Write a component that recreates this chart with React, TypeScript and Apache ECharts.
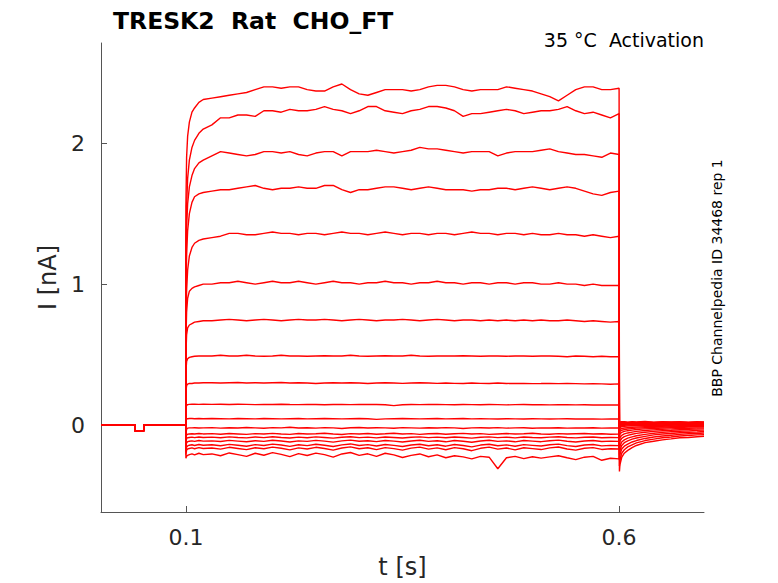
import * as echarts from "echarts"
import { useEffect, useRef } from "react"

// shared pre-pulse holding segment (with the small test step)
const baselineTimes = [0.002, 0.01, 0.02, 0.03, 0.04, 0.041, 0.0412, 0.0513, 0.0515, 0.06, 0.07, 0.08, 0.09, 0.0998]
const baselineValues = [0.003, 0.002, 0.003, 0.002, 0.003, 0.003, -0.04, -0.042, 0.002, 0.003, 0.002, 0.003, 0.002, 0.003]

const pulseTimes = [
  0.1, 0.1008, 0.102, 0.104, 0.107, 0.11, 0.115, 0.12,
  0.13, 0.14, 0.15, 0.16, 0.17, 0.18, 0.19, 0.2,
  0.21, 0.22, 0.23, 0.24, 0.25, 0.26, 0.27, 0.28, 0.29, 0.3,
  0.31, 0.32, 0.33, 0.34, 0.35, 0.36, 0.37, 0.38, 0.39, 0.4,
  0.41, 0.42, 0.43, 0.44, 0.45, 0.46, 0.47, 0.48, 0.49, 0.5,
  0.51, 0.52, 0.53, 0.54, 0.55, 0.56, 0.57, 0.58, 0.59, 0.6,
]

// current (nA) during the step, one row per sweep
const pulseValues = [
  [1.55, 1.9, 2.05, 2.15, 2.22, 2.25, 2.29, 2.31, 2.32, 2.33, 2.34, 2.35, 2.36, 2.38, 2.4, 2.4, 2.39, 2.4, 2.4, 2.38, 2.37, 2.37, 2.4, 2.42, 2.38, 2.35, 2.34, 2.36, 2.38, 2.38, 2.38, 2.37, 2.38, 2.4, 2.41, 2.41, 2.4, 2.38, 2.37, 2.38, 2.38, 2.38, 2.4, 2.39, 2.38, 2.37, 2.35, 2.33, 2.3, 2.34, 2.38, 2.4, 2.4, 2.38, 2.38, 2.39],
  [1.3, 1.55, 1.75, 1.88, 1.97, 2.02, 2.07, 2.1, 2.13, 2.18, 2.18, 2.2, 2.2, 2.19, 2.23, 2.23, 2.22, 2.24, 2.23, 2.23, 2.24, 2.26, 2.24, 2.23, 2.21, 2.23, 2.26, 2.26, 2.23, 2.22, 2.21, 2.23, 2.24, 2.26, 2.26, 2.25, 2.23, 2.19, 2.21, 2.21, 2.22, 2.23, 2.24, 2.23, 2.21, 2.22, 2.23, 2.23, 2.24, 2.26, 2.23, 2.21, 2.22, 2.2, 2.18, 2.21],
  [1.15, 1.4, 1.57, 1.69, 1.77, 1.82, 1.86, 1.88, 1.91, 1.94, 1.93, 1.92, 1.91, 1.92, 1.94, 1.94, 1.93, 1.94, 1.92, 1.91, 1.93, 1.94, 1.94, 1.91, 1.94, 1.94, 1.94, 1.95, 1.94, 1.93, 1.94, 1.95, 1.97, 1.96, 1.96, 1.95, 1.94, 1.93, 1.94, 1.94, 1.94, 1.91, 1.93, 1.94, 1.94, 1.94, 1.95, 1.96, 1.94, 1.93, 1.92, 1.92, 1.91, 1.9, 1.93, 1.92],
  [0.95, 1.2, 1.38, 1.5, 1.58, 1.62, 1.64, 1.65, 1.66, 1.67, 1.67, 1.68, 1.69, 1.7, 1.68, 1.67, 1.68, 1.68, 1.69, 1.68, 1.68, 1.7, 1.7, 1.67, 1.65, 1.67, 1.67, 1.68, 1.69, 1.69, 1.68, 1.67, 1.68, 1.69, 1.68, 1.67, 1.67, 1.67, 1.66, 1.67, 1.67, 1.68, 1.68, 1.67, 1.68, 1.69, 1.68, 1.67, 1.68, 1.69, 1.68, 1.66, 1.64, 1.63, 1.65, 1.66],
  [0.72, 0.95, 1.1, 1.2, 1.26, 1.29, 1.31, 1.32, 1.33, 1.34, 1.36, 1.36, 1.35, 1.35, 1.36, 1.37, 1.36, 1.36, 1.35, 1.36, 1.36, 1.35, 1.36, 1.37, 1.36, 1.36, 1.35, 1.36, 1.37, 1.36, 1.35, 1.36, 1.36, 1.35, 1.36, 1.36, 1.35, 1.36, 1.37, 1.36, 1.36, 1.35, 1.36, 1.36, 1.35, 1.36, 1.35, 1.35, 1.36, 1.35, 1.35, 1.34, 1.35, 1.34, 1.33, 1.34],
  [0.6, 0.8, 0.9, 0.95, 0.97, 0.98, 0.99, 1.0, 1.0, 1.01, 1.01, 1.02, 1.01, 1.0, 1.01, 1.02, 1.01, 1.01, 1.02, 1.01, 1.0, 1.01, 1.02, 1.01, 1.01, 1.0, 1.01, 1.01, 1.02, 1.01, 1.01, 1.0, 1.01, 1.01, 1.02, 1.01, 1.01, 1.0, 1.01, 1.01, 1.0, 1.01, 1.01, 1.0, 1.01, 1.01, 1.0, 1.0, 1.01, 1.0, 1.0, 0.99, 1.0, 0.99, 0.99, 0.99],
  [0.5, 0.64, 0.69, 0.71, 0.72, 0.73, 0.735, 0.74, 0.74, 0.745, 0.75, 0.745, 0.74, 0.745, 0.75, 0.745, 0.74, 0.745, 0.75, 0.745, 0.745, 0.75, 0.745, 0.74, 0.745, 0.75, 0.745, 0.74, 0.745, 0.745, 0.75, 0.745, 0.74, 0.745, 0.75, 0.745, 0.74, 0.745, 0.745, 0.74, 0.745, 0.74, 0.745, 0.74, 0.745, 0.74, 0.745, 0.74, 0.74, 0.745, 0.74, 0.735, 0.74, 0.735, 0.73, 0.735],
  [0.38, 0.45, 0.47, 0.48, 0.485, 0.488, 0.49, 0.49, 0.49, 0.495, 0.49, 0.49, 0.495, 0.49, 0.488, 0.49, 0.495, 0.49, 0.49, 0.488, 0.49, 0.492, 0.49, 0.49, 0.495, 0.49, 0.488, 0.49, 0.492, 0.49, 0.49, 0.495, 0.49, 0.488, 0.49, 0.49, 0.49, 0.492, 0.49, 0.488, 0.49, 0.49, 0.488, 0.49, 0.49, 0.488, 0.49, 0.49, 0.488, 0.485, 0.49, 0.488, 0.485, 0.488, 0.485, 0.485],
  [0.24, 0.28, 0.29, 0.295, 0.295, 0.298, 0.298, 0.3, 0.3, 0.298, 0.3, 0.302, 0.298, 0.3, 0.298, 0.3, 0.302, 0.298, 0.3, 0.298, 0.295, 0.298, 0.3, 0.298, 0.3, 0.298, 0.295, 0.298, 0.3, 0.298, 0.296, 0.298, 0.3, 0.298, 0.296, 0.298, 0.296, 0.295, 0.298, 0.296, 0.295, 0.298, 0.295, 0.296, 0.295, 0.294, 0.295, 0.296, 0.294, 0.295, 0.294, 0.292, 0.294, 0.292, 0.29, 0.292],
  [0.12, 0.14, 0.145, 0.147, 0.148, 0.148, 0.147, 0.148, 0.147, 0.148, 0.146, 0.148, 0.147, 0.145, 0.147, 0.146, 0.148, 0.146, 0.145, 0.147, 0.146, 0.144, 0.146, 0.147, 0.145, 0.146, 0.147, 0.146, 0.144, 0.138, 0.144, 0.146, 0.145, 0.147, 0.146, 0.145, 0.144, 0.146, 0.145, 0.144, 0.146, 0.145, 0.143, 0.145, 0.146, 0.144, 0.145, 0.143, 0.144, 0.145, 0.143, 0.144, 0.142, 0.143, 0.142, 0.142],
  [0.03, 0.042, 0.045, 0.046, 0.046, 0.045, 0.046, 0.045, 0.046, 0.045, 0.044, 0.046, 0.045, 0.044, 0.046, 0.045, 0.044, 0.045, 0.046, 0.044, 0.045, 0.046, 0.045, 0.044, 0.045, 0.046, 0.045, 0.04, 0.044, 0.045, 0.046, 0.045, 0.044, 0.045, 0.046, 0.044, 0.045, 0.046, 0.044, 0.045, 0.044, 0.043, 0.045, 0.044, 0.043, 0.045, 0.044, 0.043, 0.044, 0.045, 0.043, 0.044, 0.043, 0.042, 0.043, 0.043],
  [-0.06, -0.03, -0.022, -0.02, -0.02, -0.019, -0.021, -0.02, -0.018, -0.022, -0.019, -0.021, -0.017, -0.02, -0.023, -0.018, -0.02, -0.016, -0.021, -0.019, -0.022, -0.018, -0.02, -0.024, -0.019, -0.017, -0.021, -0.019, -0.02, -0.023, -0.018, -0.02, -0.022, -0.019, -0.021, -0.018, -0.02, -0.024, -0.02, -0.019, -0.021, -0.018, -0.022, -0.02, -0.019, -0.023, -0.02, -0.021, -0.019, -0.022, -0.02, -0.021, -0.019, -0.022, -0.02, -0.021],
  [-0.1, -0.07, -0.065, -0.063, -0.062, -0.064, -0.06, -0.063, -0.061, -0.065, -0.06, -0.063, -0.066, -0.061, -0.064, -0.059, -0.063, -0.066, -0.06, -0.064, -0.062, -0.058, -0.063, -0.067, -0.061, -0.064, -0.06, -0.065, -0.062, -0.058, -0.064, -0.061, -0.066, -0.062, -0.06, -0.065, -0.062, -0.059, -0.064, -0.061, -0.066, -0.063, -0.06, -0.064, -0.062, -0.058, -0.063, -0.065, -0.061, -0.064, -0.062, -0.06, -0.064, -0.062, -0.065, -0.063],
  [-0.13, -0.095, -0.09, -0.088, -0.086, -0.089, -0.085, -0.088, -0.086, -0.09, -0.084, -0.088, -0.091, -0.085, -0.089, -0.083, -0.088, -0.092, -0.086, -0.09, -0.084, -0.088, -0.093, -0.087, -0.083, -0.089, -0.086, -0.091, -0.085, -0.088, -0.092, -0.087, -0.084, -0.089, -0.086, -0.09, -0.085, -0.088, -0.093, -0.087, -0.084, -0.089, -0.086, -0.091, -0.085, -0.088, -0.09, -0.086, -0.083, -0.088, -0.091, -0.087, -0.085, -0.09, -0.088, -0.089],
  [-0.16, -0.125, -0.118, -0.115, -0.112, -0.116, -0.11, -0.114, -0.112, -0.117, -0.109, -0.114, -0.119, -0.111, -0.116, -0.108, -0.113, -0.12, -0.112, -0.116, -0.109, -0.114, -0.121, -0.112, -0.107, -0.115, -0.111, -0.118, -0.11, -0.114, -0.12, -0.113, -0.108, -0.116, -0.111, -0.119, -0.11, -0.115, -0.122, -0.113, -0.108, -0.116, -0.112, -0.119, -0.11, -0.114, -0.118, -0.111, -0.107, -0.115, -0.12, -0.113, -0.11, -0.117, -0.114, -0.116],
  [-0.19, -0.155, -0.148, -0.143, -0.14, -0.145, -0.138, -0.143, -0.14, -0.147, -0.137, -0.143, -0.15, -0.139, -0.145, -0.135, -0.142, -0.151, -0.14, -0.146, -0.136, -0.143, -0.152, -0.141, -0.134, -0.145, -0.139, -0.149, -0.138, -0.144, -0.152, -0.142, -0.136, -0.147, -0.14, -0.15, -0.138, -0.145, -0.155, -0.142, -0.136, -0.147, -0.141, -0.15, -0.139, -0.144, -0.149, -0.14, -0.135, -0.146, -0.152, -0.142, -0.138, -0.148, -0.144, -0.146],
  [-0.21, -0.178, -0.17, -0.166, -0.162, -0.168, -0.16, -0.166, -0.163, -0.171, -0.158, -0.166, -0.174, -0.161, -0.168, -0.157, -0.165, -0.176, -0.162, -0.17, -0.158, -0.166, -0.178, -0.163, -0.155, -0.168, -0.161, -0.174, -0.16, -0.167, -0.178, -0.164, -0.157, -0.171, -0.162, -0.175, -0.16, -0.168, -0.182, -0.165, -0.157, -0.171, -0.163, -0.176, -0.161, -0.167, -0.174, -0.162, -0.156, -0.17, -0.178, -0.165, -0.16, -0.173, -0.168, -0.17],
  [-0.235, -0.22, -0.215, -0.21, -0.205, -0.212, -0.2, -0.21, -0.205, -0.218, -0.198, -0.21, -0.222, -0.2, -0.214, -0.196, -0.208, -0.224, -0.203, -0.216, -0.199, -0.21, -0.228, -0.205, -0.195, -0.215, -0.204, -0.222, -0.2, -0.212, -0.23, -0.215, -0.205, -0.225, -0.212, -0.232, -0.218, -0.226, -0.24, -0.222, -0.228, -0.31, -0.232, -0.222, -0.238, -0.225, -0.235, -0.226, -0.218, -0.232, -0.245, -0.228, -0.222, -0.25, -0.236, -0.24],
]

const tailTimes = [0.6004, 0.601, 0.603, 0.606, 0.61, 0.615, 0.62, 0.63, 0.64, 0.65, 0.66, 0.67, 0.68, 0.69, 0.698]

// current (nA) after the step, one row per sweep
const tailValues = [
  [-0.33, -0.28, -0.23, -0.2, -0.18, -0.16, -0.145, -0.125, -0.115, -0.105, -0.098, -0.09, -0.088, -0.083, -0.08],
  [-0.29, -0.25, -0.2, -0.175, -0.155, -0.14, -0.127, -0.11, -0.1, -0.09, -0.085, -0.078, -0.074, -0.07, -0.068],
  [-0.25, -0.21, -0.17, -0.15, -0.135, -0.12, -0.11, -0.095, -0.085, -0.078, -0.072, -0.066, -0.062, -0.06, -0.056],
  [-0.21, -0.18, -0.145, -0.125, -0.112, -0.1, -0.092, -0.08, -0.07, -0.064, -0.06, -0.055, -0.051, -0.049, -0.046],
  [-0.17, -0.15, -0.12, -0.105, -0.093, -0.084, -0.076, -0.066, -0.058, -0.052, -0.048, -0.044, -0.041, -0.038, -0.036],
  [-0.13, -0.115, -0.095, -0.082, -0.073, -0.065, -0.059, -0.051, -0.045, -0.04, -0.037, -0.033, -0.031, -0.029, -0.027],
  [-0.1, -0.088, -0.073, -0.063, -0.056, -0.05, -0.045, -0.039, -0.034, -0.03, -0.027, -0.025, -0.023, -0.021, -0.02],
  [-0.07, -0.062, -0.052, -0.045, -0.04, -0.036, -0.032, -0.027, -0.024, -0.021, -0.018, -0.017, -0.015, -0.013, -0.012],
  [-0.05, -0.044, -0.037, -0.032, -0.028, -0.025, -0.022, -0.019, -0.016, -0.014, -0.012, -0.01, -0.009, -0.008, -0.007],
  [-0.035, -0.03, -0.025, -0.021, -0.018, -0.016, -0.014, -0.011, -0.009, -0.008, -0.006, -0.005, -0.004, -0.004, -0.003],
  [-0.02, -0.016, -0.012, -0.009, -0.007, -0.005, -0.004, -0.002, -0.003, 0.0, -0.002, 0.001, -0.001, 0.0, -0.001],
  [-0.012, -0.008, -0.005, -0.002, 0.001, -0.001, 0.002, 0.0, 0.003, 0.001, 0.004, 0.002, 0.003, 0.001, 0.003],
  [-0.006, -0.002, 0.002, 0.004, 0.003, 0.006, 0.004, 0.007, 0.005, 0.008, 0.006, 0.008, 0.007, 0.009, 0.007],
  [0.0, 0.004, 0.007, 0.009, 0.008, 0.011, 0.009, 0.012, 0.01, 0.012, 0.01, 0.013, 0.011, 0.012, 0.011],
  [0.005, 0.01, 0.012, 0.014, 0.012, 0.015, 0.013, 0.016, 0.014, 0.016, 0.013, 0.015, 0.014, 0.016, 0.014],
  [0.01, 0.014, 0.016, 0.018, 0.015, 0.018, 0.016, 0.019, 0.016, 0.018, 0.017, 0.019, 0.016, 0.018, 0.017],
  [0.014, 0.018, 0.02, 0.021, 0.018, 0.021, 0.019, 0.022, 0.019, 0.021, 0.02, 0.021, 0.019, 0.021, 0.02],
  [0.018, 0.022, 0.024, 0.023, 0.021, 0.024, 0.022, 0.025, 0.021, 0.024, 0.022, 0.023, 0.021, 0.023, 0.022],
]

const xTicks = [0.1, 0.6]
const yTicks = [0, 1, 2]

const font = "DejaVu Sans, sans-serif"
const ink = "#262626"
const axisGray = "#555555"

export default function App() {
  const node = useRef<HTMLDivElement>(null)

  useEffect(() => {
    if (!node.current) return
    const chart = echarts.init(node.current, undefined, { renderer: "svg" })
    const series = pulseValues.map((pulse, i) => ({
      type: "line",
      showSymbol: false,
      silent: true,
      data: [
        ...baselineTimes.map((t, k) => [t, baselineValues[k]]),
        ...pulseTimes.map((t, k) => [t, pulse[k]]),
        ...tailTimes.map((t, k) => [t, tailValues[i][k]]),
      ],
      lineStyle: { color: "#ff0000", width: 1.4 },
      itemStyle: { color: "#ff0000" },
    }))
    chart.setOption({
      animation: false,
      textStyle: { fontFamily: font },
      title: {
        text: "TRESK2  Rat  CHO_FT",
        left: 108,
        top: 4,
        textStyle: { fontFamily: font, fontSize: 23.5, fontWeight: "bold", color: "#000" },
      },
      grid: { left: 101, right: 74, top: 43, bottom: 71, outerBoundsMode: "none" },
      xAxis: {
        type: "value",
        min: 0.002,
        max: 0.698,
        name: "t [s]",
        nameLocation: "middle",
        nameGap: 43,
        nameTextStyle: { fontFamily: font, fontSize: 24, color: ink },
        axisLine: { onZero: false, lineStyle: { color: axisGray, width: 1 } },
        axisTick: { inside: true, length: 6, customValues: xTicks, lineStyle: { color: axisGray } },
        axisLabel: { customValues: xTicks, fontSize: 22, color: ink, margin: 14, fontFamily: font },
        splitLine: { show: false },
      },
      yAxis: {
        type: "value",
        min: -0.617,
        max: 2.711,
        name: "I [nA]",
        nameLocation: "middle",
        nameGap: 39,
        nameRotate: 90,
        nameTextStyle: { fontFamily: font, fontSize: 24, color: ink },
        axisLine: { show: true, onZero: false, lineStyle: { color: axisGray, width: 1 } },
        axisTick: { show: true, inside: true, length: 6, customValues: yTicks, lineStyle: { color: axisGray } },
        axisLabel: { customValues: yTicks, fontSize: 22, color: ink, margin: 16, fontFamily: font },
        splitLine: { show: false },
      },
      graphic: [
        {
          type: "text",
          right: 74,
          top: 30,
          style: { text: "35 °C  Activation", font: `19px ${font}`, fill: "#000" },
        },
        {
          type: "text",
          x: 717,
          y: 278,
          rotation: Math.PI / 2,
          style: {
            text: "BBP Channelpedia ID 34468 rep 1",
            font: `14px ${font}`,
            fill: "#000",
            align: "center",
            verticalAlign: "middle",
          },
        },
      ],
      series,
    })
    return () => chart.dispose()
  }, [])

  return (
    <div
      ref={node}
      style={{ position: "fixed", left: 0, top: 0, width: 778, height: 583, background: "#fff" }}
    />
  )
}
